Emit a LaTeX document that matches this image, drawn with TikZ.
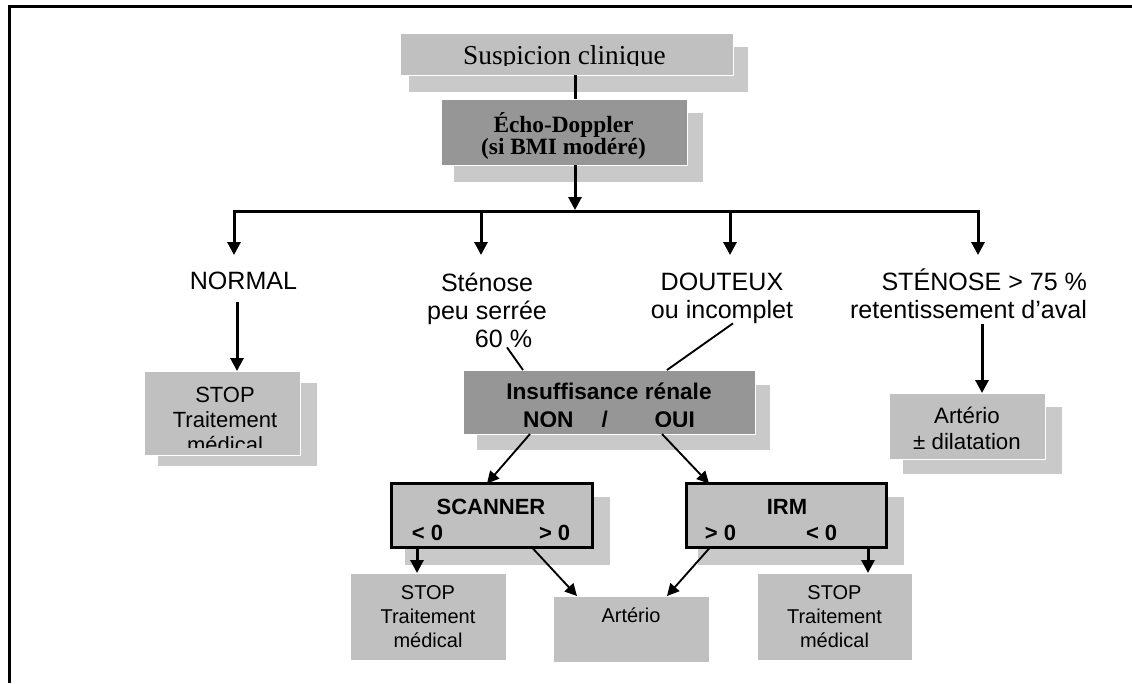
\documentclass[tikz,border=0pt]{standalone}
\usepackage{fontspec}
\setmainfont{Liberation Serif}
\newfontfamily\arial{Liberation Sans}
\usetikzlibrary{arrows.meta}
\definecolor{boxgray}{HTML}{C0C0C0}
\definecolor{darkbox}{HTML}{969696}
\definecolor{shadowgray}{HTML}{C9C9C9}
\tikzset{
  sz/.style 2 args={minimum width=#1*0.75pt,minimum height=#2*0.75pt,inner sep=0pt,outer sep=0pt},
  shad/.style={fill=shadowgray,draw=none},
  lbox/.style={fill=boxgray,draw=white,line width=0.75pt},
  dbox/.style={fill=darkbox,draw=white,line width=0.75pt},
  kbox/.style={fill=boxgray,draw=black,line width=2.25pt},
  lab/.style={font=\arial\fontsize{18.8}{21}\selectfont,align=center,inner sep=0pt,outer sep=0pt},
  txt/.style={align=center,inner sep=0pt,outer sep=0pt},
  heavy/.style={line width=2.25pt},
  arr/.style={line width=2.25pt,-{Triangle[length=9.75pt,width=9.75pt]}},
  thinline/.style={line width=1.4pt},
  thinarr/.style={line width=1.4pt,-{Triangle[length=9pt,width=9pt]}}
}
\begin{document}
\begin{tikzpicture}[x=0.75pt,y=-0.75pt]
\useasboundingbox (0,0) rectangle (1132,683);
% frame
\draw[line width=2.2pt] (1132,6.5) -- (9.5,6.5) -- (9.5,683);

% reference x coordinates
\coordinate (xm) at (575,0);
\coordinate (xn) at (237,0);
\coordinate (x75) at (982,0);
\coordinate (x60a) at (507,0);
\coordinate (x60b) at (523,0);
\coordinate (xda) at (733,0);
\coordinate (xdb) at (667,0);
\coordinate (xia) at (530,0);
\coordinate (xib) at (487,0);
\coordinate (xja) at (662,0);
\coordinate (xjb) at (709,0);
\coordinate (xsa) at (417,0);
\coordinate (xsb) at (532,0);
\coordinate (xsc) at (577,0);
\coordinate (xra) at (868,0);
\coordinate (xrb) at (710,0);
\coordinate (xrc) at (667,0);
\coordinate (j) at (575,210);
\coordinate (j1) at (234,211);
\coordinate (j2) at (481,211);
\coordinate (j3) at (730,211);
\coordinate (j4) at (978,211);
\coordinate (t1) at (234,255);
\coordinate (t2) at (481,255);
\coordinate (t3) at (730,255);
\coordinate (t4) at (978,255);

% Suspicion clinique
\node[shad,sz={339}{45}] (suspS) at (578.5,69.5) {};
\node[lbox,sz={333}{42}] (susp) at (566.5,54) {};
\node[txt,anchor=base,font=\fontsize{20.5}{22}\selectfont] (suspT) at (564.5,64.5) {Suspicion clinique};
\fill[boxgray] ([xshift=1pt,yshift=0.5pt]susp.south west) rectangle ([xshift=-1pt,yshift=7pt]susp.south east);

% Echo-Doppler
\node[shad,sz={249}{69}] (echoS) at (578.5,147.5) {};
\node[dbox,sz={246}{66}] (echo) at (564,132) {};
\node[txt,font=\bfseries\fontsize{17.5}{16.5}\selectfont] (echoT) at (563.5,136) {Écho-Doppler\\(si BMI modéré)};
\draw[heavy] (susp.south -| xm) -- (echo.north -| xm);
\draw[arr] (echo.south -| xm) -- (j);

% branches
\draw[heavy] (j1) -- (j4);
\draw[arr] (j4) -- (j1) -- (t1);
\draw[arr] (j1) -- (j4) -- (t4);
\draw[arr] (j2) -- (t2);
\draw[arr] (j3) -- (t3);

% labels
\node[lab] (normal) at (243.5,281) {NORMAL};
\node[lab] (sten) at (487,310) {Sténose\\peu serrée\\\hspace*{24.75pt}60~\%};
\node[lab] (dout) at (722,298) {DOUTEUX\\ou incomplet};
\node[lab,align=right,anchor=east] (st75) at (1087,294) {STÉNOSE > 75~\%\\retentissement d’aval};

% STOP (left, upper)
\node[shad,sz={159}{83}] (stop1S) at (237.5,424.5) {};
\node[lbox,sz={156}{84}] (stop1) at (222,413) {};
\node[txt,font=\arial\fontsize{16.5}{18.75}\selectfont] (stop1T) at (225,420) {STOP\\Traitement\\médical};
\fill[boxgray] ([xshift=1pt,yshift=0.5pt]stop1.south west) rectangle ([xshift=-1pt,yshift=5.5pt]stop1.south east);
\draw[arr,shorten <=9pt] (normal.south -| xn) -- (stop1.north -| xn);

% Insuffisance renale
\node[shad,sz={293}{65}] (insS) at (623.5,417.5) {};
\node[dbox,sz={292}{64}] (ins) at (609,402) {};
\node[txt,font=\arial\bfseries\fontsize{17}{21}\selectfont] (insT) at (609,405.4) {Insuffisance rénale\\NON\hspace{21pt}/\hspace{35pt}OUI};
\fill[darkbox] ([xshift=1pt,yshift=0.5pt]ins.south west) rectangle ([xshift=-1pt,yshift=5.25pt]ins.south east);
\draw[thinline] (sten.south -| x60a) -- (ins.north -| x60b);
\draw[thinline] (dout.south -| xda) -- (ins.north -| xdb);

% Artério ± dilatation
\node[shad,sz={159}{67}] (art2S) at (982.5,440.5) {};
\node[lbox,sz={156}{66}] (art2) at (967,426) {};
\node[txt,font=\arial\fontsize{16.7}{19.5}\selectfont] (art2T) at (967,428) {Artério\\± dilatation};
\draw[arr,shorten <=3.75pt] (st75.south -| x75) -- (art2.north -| x75);

% SCANNER and IRM
\node[shad,sz={205}{68}] (scanS) at (507.5,531) {};
\node[kbox,sz={201}{64}] (scan) at (492,515.5) {};
\node[txt,font=\arial\bfseries\fontsize{16.5}{19}\selectfont] (scanT) at (491,520) {SCANNER\\< 0\hspace{72pt}> 0};
\node[shad,sz={206}{68}] (irmS) at (801,531) {};
\node[kbox,sz={200}{64}] (irm) at (786.5,515.5) {};
\node[txt,font=\arial\bfseries\fontsize{16.5}{19}\selectfont] (irmT) at (787,520) {IRM\\> 0\hspace{52.5pt}< 0\hspace*{24pt}};
\draw[thinarr] (ins.south -| xia) -- (scan.north -| xib);
\draw[thinarr] (ins.south -| xja) -- (irm.north -| xjb);

% bottom boxes
\node[lbox,sz={156}{87},txt,font=\arial\fontsize{15}{18}\selectfont] (stop2) at (428,616.5) {STOP\\Traitement\\médical};
\node[lbox,sz={156}{66},txt,font=\arial\fontsize{15}{18}\selectfont] (art) at (631,629) {Artério\\\phantom{p}};
\node[lbox,sz={155}{87},txt,font=\arial\fontsize{15}{18}\selectfont] (stop3) at (834.5,616.5) {STOP\\Traitement\\médical};
\draw[arr] (scan.south -| xsa) -- (stop2.north -| xsa);
\draw[arr] (irm.south -| xra) -- (stop3.north -| xra);
\draw[thinarr] (scan.south -| xsb) -- (art.north -| xsc);
\draw[thinarr] (irm.south -| xrb) -- (art.north -| xrc);
\end{tikzpicture}
\end{document}
